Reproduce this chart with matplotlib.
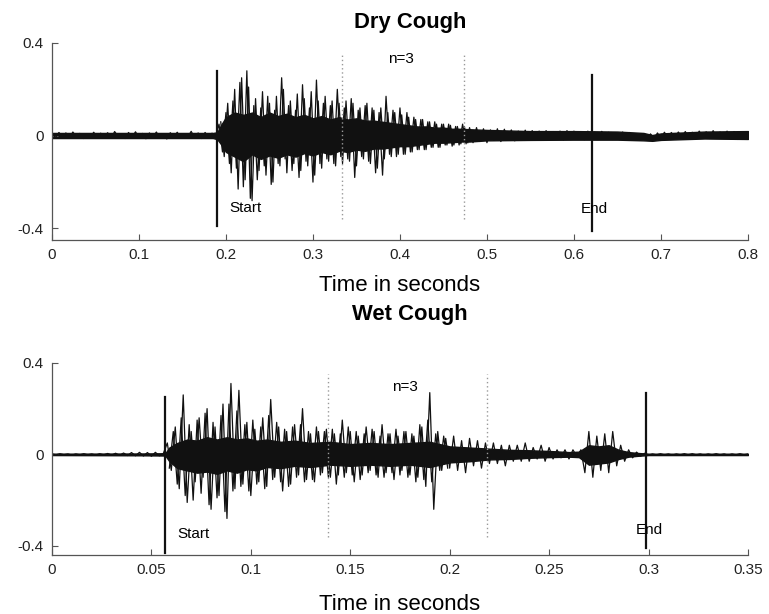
import numpy as np
import matplotlib
matplotlib.use("Agg")
import matplotlib.pyplot as plt

plt.rcParams['font.family'] = ['Liberation Sans', 'DejaVu Sans']
plt.rcParams['axes.unicode_minus'] = False

# Dry cough: peak samples every 4 ms, 0 .. 0.8 s
dry_step = 0.004
dry_vals = [
    0.010, -0.008, 0.014, -0.006, 0.012, -0.010, 0.016, -0.004, 0.010, -0.012,
    0.008, -0.006, 0.015, -0.009, 0.011, -0.005, 0.013, -0.011, 0.018, -0.003,
    0.009, -0.012, 0.014, -0.007, 0.017, -0.008, 0.010, -0.013, 0.012, -0.006,
    0.016, -0.010, 0.008, -0.014, 0.013, -0.005, 0.015, -0.011, 0.009, -0.007,
    0.019, -0.009, 0.012, -0.012, 0.014, -0.006, 0.011, -0.008,
    0.05, -0.07, 0.10, -0.12, 0.15, -0.14, 0.23, -0.22, 0.28, -0.27,
    0.13, -0.19, 0.12, -0.13, 0.17, -0.21, 0.11, -0.12, 0.25, -0.10,
    0.13, -0.15, 0.11, -0.18, 0.22, -0.11, 0.12, -0.20, 0.24, -0.12,
    0.14, -0.10, 0.13, -0.12, 0.20, -0.09, 0.12, -0.10, 0.16, -0.18,
    0.11, -0.09, 0.13, -0.11, 0.12, -0.16, 0.10, -0.17, 0.17, -0.08,
    0.11, -0.09, 0.12, -0.08, 0.10, -0.07, 0.08, -0.06, 0.07, -0.06,
    0.06, -0.05, 0.06, -0.05, 0.05, -0.04, 0.05, -0.045, 0.04, -0.04,
    0.05, -0.035, 0.035,
    -0.03, 0.035, -0.025, 0.03, -0.03, 0.025, -0.02, 0.03, -0.025, 0.028,
    -0.02, 0.025, -0.022, 0.02, -0.018, 0.024, -0.02, 0.022, -0.015, 0.02,
    -0.018, 0.022, -0.02, 0.018, -0.015, 0.02, -0.018, 0.022, -0.016, 0.02,
    -0.014, 0.018, -0.017, 0.02, -0.012, 0.016, -0.015, 0.019, -0.013, 0.015,
    -0.016, 0.012, -0.014, 0.016, -0.012, 0.014, -0.02, 0.006, -0.018, -0.004,
    -0.015, 0.008, -0.012, 0.012, -0.01, 0.015, -0.008, 0.014, -0.01, 0.016,
    -0.006, 0.018, -0.008, 0.015, -0.01, 0.02, -0.006, 0.017, -0.012, 0.022,
    -0.008, 0.016, -0.01, 0.02, -0.014, 0.018, -0.016, 0.014, -0.012, 0.015,
]
# extra peaks in the loud part, 0.194 .. 0.478 s every 4 ms
dry_t2_start = 0.194
dry_vals2 = [
    0.06, -0.09, 0.14, -0.16, 0.20, -0.23, 0.25, -0.19, 0.21, -0.28,
    0.16, -0.15, 0.19, -0.17, 0.14, -0.20, 0.17, -0.13, 0.20, -0.16,
    0.15, -0.12, 0.18, -0.15, 0.16, -0.13, 0.19, -0.17, 0.15, -0.14,
    0.17, -0.11, 0.15, -0.13, 0.14, -0.12, 0.15, -0.11, 0.14, -0.13,
    0.12, -0.10, 0.14, -0.12, 0.11, -0.14, 0.12, -0.10, 0.10, -0.09,
    0.10, -0.08, 0.09, -0.08, 0.08, -0.07, 0.07, -0.06, 0.07, -0.06,
    0.06, -0.05, 0.05, -0.05, 0.05, -0.04, 0.045, -0.04, 0.04, -0.035,
    0.04, -0.03,
]
# dense core of the dry waveform (envelope breakpoints)
dry_env_t = [0, 0.185, 0.19, 0.195, 0.20, 0.21, 0.22, 0.23, 0.24, 0.25, 0.26,
             0.27, 0.28, 0.29, 0.30, 0.31, 0.32, 0.33, 0.34, 0.35, 0.36, 0.37,
             0.38, 0.39, 0.40, 0.41, 0.42, 0.43, 0.44, 0.45, 0.46, 0.47, 0.48,
             0.50, 0.55, 0.60, 0.65, 0.68, 0.69, 0.70, 0.75, 0.80]
dry_env_hi = [0.012, 0.012, 0.015, 0.05, 0.08, 0.10, 0.09, 0.10, 0.08, 0.10, 0.085,
              0.095, 0.08, 0.09, 0.075, 0.085, 0.07, 0.08, 0.07, 0.075, 0.065, 0.065,
              0.06, 0.055, 0.05, 0.045, 0.04, 0.04, 0.035, 0.035, 0.03, 0.03, 0.028,
              0.025, 0.02, 0.02, 0.018, 0.012, 0.003, 0.01, 0.018, 0.02]
dry_env_lo = [-0.01, -0.01, -0.015, -0.04, -0.07, -0.09, -0.11, -0.08, -0.10, -0.085, -0.095,
              -0.08, -0.09, -0.075, -0.085, -0.07, -0.08, -0.065, -0.07, -0.06, -0.065, -0.055,
              -0.055, -0.05, -0.045, -0.045, -0.04, -0.035, -0.03, -0.03, -0.028, -0.025, -0.025,
              -0.02, -0.018, -0.017, -0.017, -0.02, -0.022, -0.018, -0.012, -0.014]

# Wet cough: peak samples every 2 ms, 0 .. 0.35 s
wet_step = 0.002
wet_vals = [
    0.002, -0.002, 0.003, -0.001, 0.002, -0.003, 0.002, -0.002, 0.003, -0.002,
    0.002, -0.003, 0.003, -0.002, 0.004, -0.003, 0.005, -0.004, 0.006, -0.005,
    0.008, -0.006, 0.009, -0.007, 0.008, -0.008, 0.009, -0.006, 0.004,
    0.05, -0.07, 0.12, -0.15, 0.26, -0.21, 0.10, -0.12, 0.16, -0.10,
    0.20, -0.24, 0.12, -0.18, 0.22, -0.28, 0.31, -0.15, 0.28, -0.13,
    0.14, -0.18, 0.11, -0.12, 0.16, -0.14, 0.24, -0.10, 0.12, -0.16,
    0.10, -0.13, 0.13, -0.09, 0.20, -0.11, 0.09, -0.12, 0.10, -0.08,
    0.11, -0.10, 0.09, -0.09, 0.15, -0.08, 0.10, -0.12, 0.08, -0.09,
    0.12, -0.07, 0.10, -0.10, 0.13, -0.08, 0.09, -0.11, 0.08, -0.07,
    0.10, -0.09, 0.08, -0.10, 0.12, -0.14, 0.27, -0.24, 0.10, -0.07,
    0.07, -0.06, 0.08, -0.07, 0.06, -0.08, 0.07, -0.05, 0.06, -0.06,
    0.05, -0.04, 0.05, -0.04, 0.04, -0.05, 0.04, -0.03, 0.04, -0.03,
    0.05, -0.03, 0.03, -0.02, 0.04, -0.03, 0.03, -0.02, 0.02, -0.015,
    0.02, -0.02, 0.02, -0.01, 0.02, -0.08, 0.10, -0.10, 0.08, -0.07,
    0.09, -0.08, 0.10, -0.05, 0.04, -0.03, 0.02, -0.015, 0.01, -0.008,
    0.005,
    -0.003, 0.002, -0.002, 0.003, -0.002, 0.002, -0.003, 0.002, -0.002, 0.003,
    -0.002, 0.003, -0.002, 0.002, -0.003, 0.002, -0.002, 0.003, -0.002, 0.002,
    -0.003, 0.002, -0.002, 0.003, -0.002, 0.002,
]
# extra peaks in the loud part, 0.059 .. 0.199 s every 2 ms
wet_t2_start = 0.059
wet_vals2 = [
    -0.06, 0.10, -0.13, 0.16, -0.18, 0.13, -0.20, 0.15, -0.17, 0.18,
    -0.22, 0.14, -0.19, 0.17, -0.25, 0.22, -0.16, 0.19, -0.14, 0.13,
    -0.16, 0.15, -0.13, 0.12, -0.15, 0.17, -0.11, 0.14, -0.12, 0.11,
    -0.14, 0.12, -0.10, 0.13, -0.12, 0.10, -0.11, 0.12, -0.09, 0.10,
    -0.10, 0.11, -0.13, 0.09, -0.10, 0.12, -0.09, 0.10, -0.11, 0.09,
    -0.08, 0.11, -0.09, 0.08, -0.10, 0.09, -0.08, 0.11, -0.09, 0.10,
    -0.10, 0.09, -0.12, 0.13, -0.11, 0.15, -0.12, 0.09, -0.07, 0.08,
    -0.06,
]
wet_env_t = [0, 0.045, 0.057, 0.059, 0.063, 0.068, 0.073, 0.078, 0.083, 0.088,
             0.093, 0.098, 0.103, 0.108, 0.115, 0.122, 0.13, 0.14, 0.15, 0.16,
             0.17, 0.18, 0.19, 0.20, 0.21, 0.22, 0.23, 0.24, 0.25, 0.26, 0.265,
             0.27, 0.275, 0.28, 0.285, 0.29, 0.295, 0.30, 0.35]
wet_env_hi = [0.003, 0.004, 0.005, 0.03, 0.05, 0.065, 0.06, 0.075, 0.065, 0.075,
              0.065, 0.07, 0.06, 0.065, 0.055, 0.06, 0.05, 0.055, 0.045, 0.05,
              0.045, 0.05, 0.055, 0.035, 0.03, 0.025, 0.02, 0.018, 0.015, 0.01, 0.012,
              0.04, 0.035, 0.04, 0.02, 0.01, 0.006, 0.003, 0.003]
wet_env_lo = [-0.003, -0.004, -0.005, -0.03, -0.06, -0.07, -0.08, -0.075, -0.085, -0.07,
              -0.08, -0.065, -0.07, -0.055, -0.06, -0.05, -0.055, -0.045, -0.05, -0.045,
              -0.05, -0.045, -0.055, -0.035, -0.03, -0.022, -0.02, -0.015, -0.012, -0.01, -0.012,
              -0.045, -0.04, -0.035, -0.02, -0.01, -0.006, -0.003, -0.003]

# event markers: (x, ymin, ymax)
dry_start = (0.19, -0.39, 0.28)
dry_end = (0.621, -0.41, 0.26)
dry_split = [0.333, 0.474]
wet_start = (0.057, -0.43, 0.25)
wet_end = (0.2987, -0.41, 0.27)
wet_split = [0.139, 0.219]

dry_xticks = [0, 0.1, 0.2, 0.3, 0.4, 0.5, 0.6, 0.7, 0.8]
dry_xlabels = ['0', '0.1', '0.2', '0.3', '0.4', '0.5', '0.6', '0.7', '0.8']
wet_xticks = [0, 0.05, 0.1, 0.15, 0.2, 0.25, 0.3, 0.35]
wet_xlabels = ['0', '0.05', '0.1', '0.15', '0.2', '0.25', '0.3', '0.35']
yticks = [-0.4, 0, 0.4]
ylabels = ['-0.4', '0', '0.4']

fig = plt.figure(figsize=(7.69, 6.14), dpi=100)
ax1 = fig.add_axes([0.0676, 0.609, 0.905, 0.321])
ax2 = fig.add_axes([0.0676, 0.096, 0.905, 0.313])


def draw(ax, step, vals, t2_start, vals2, env_t, env_hi, env_lo, start, end,
         split, xticks, xlabels, xmax, ylo, title, tpad, lpad):
    t = np.arange(len(vals)) * step
    t2 = t2_start + np.arange(len(vals2)) * step
    ax.fill_between(env_t, env_lo, env_hi, color='#111111', lw=1.0)
    ax.plot(t, vals, color='#111111', lw=0.9)
    ax.plot(t2, vals2, color='#111111', lw=0.9)
    for x, lo, hi in (start, end):
        ax.plot([x, x], [lo, hi], color='#111111', lw=1.6)
    for x in split:
        ax.plot([x, x], [-0.36, 0.35], color='#999999', lw=1.0, ls=(0, (1, 2)))
    ax.set_xlim(0, xmax)
    ax.set_ylim(ylo, 0.4)
    ax.set_xticks(xticks)
    ax.set_xticklabels(xlabels)
    ax.set_yticks(yticks)
    ax.set_yticklabels(ylabels)
    for s in ['top', 'right']:
        ax.spines[s].set_visible(False)
    for s in ['left', 'bottom']:
        ax.spines[s].set_color('#555555')
        ax.spines[s].set_linewidth(0.9)
    ax.tick_params(direction='in', length=4, labelsize=11, colors='#555555',
                   labelcolor='#222222', pad=6)
    ax.set_xlabel('Time in seconds', fontsize=16, labelpad=lpad)
    ax.set_title(title, fontsize=15.8, fontweight='bold', pad=tpad, x=0.514)


draw(ax1, dry_step, dry_vals, dry_t2_start, dry_vals2,
     dry_env_t, dry_env_hi, dry_env_lo, dry_start, dry_end, dry_split,
     dry_xticks, dry_xlabels, 0.8, -0.45, 'Dry Cough', 11, 9)
ax1.text(0.204, -0.31, 'Start', fontsize=11, va='center')
ax1.text(0.386, 0.33, 'n=3', fontsize=11, va='center')
ax1.text(0.608, -0.315, 'End', fontsize=11, va='center')

draw(ax2, wet_step, wet_vals, wet_t2_start, wet_vals2,
     wet_env_t, wet_env_hi, wet_env_lo, wet_start, wet_end, wet_split,
     wet_xticks, wet_xlabels, 0.35, -0.44, 'Wet Cough', 31, 12)
ax2.text(0.063, -0.35, 'Start', fontsize=11, va='center')
ax2.text(0.171, 0.295, 'n=3', fontsize=11, va='center')
ax2.text(0.2935, -0.33, 'End', fontsize=11, va='center')

fig.savefig('out.png', dpi=100)
